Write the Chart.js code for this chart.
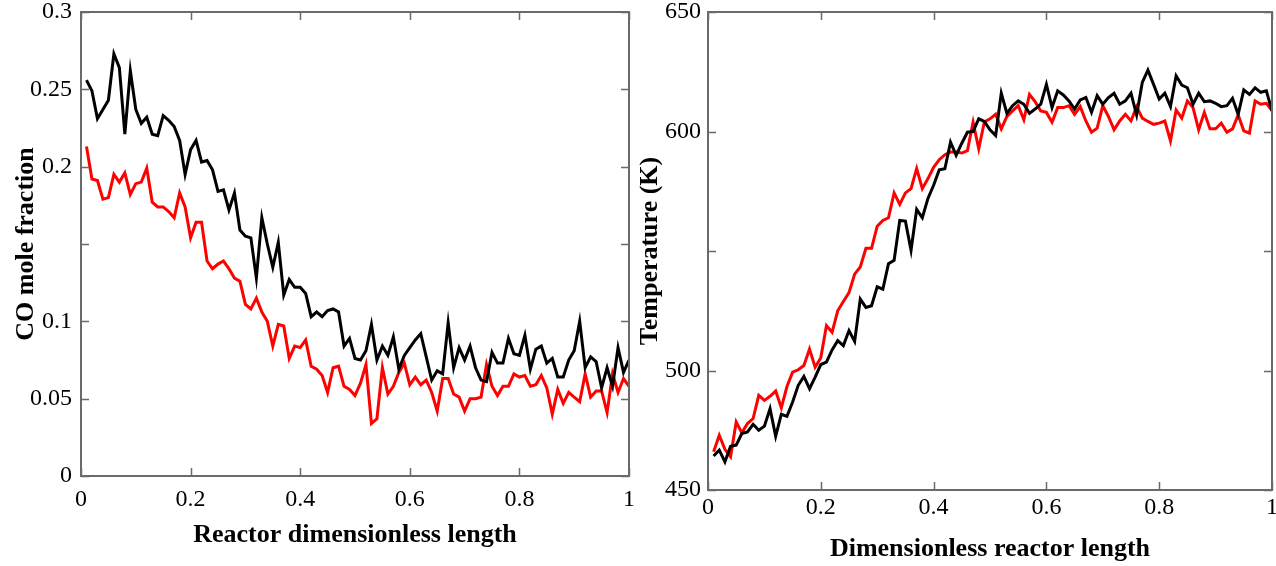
<!DOCTYPE html>
<html>
<head>
<meta charset="utf-8">
<script src="https://cdn.jsdelivr.net/npm/chart.js@4.4.1/dist/chart.umd.min.js"></script>
<style>
  html, body { margin: 0; padding: 0; background: #fff; }
  body { width: 1276px; height: 566px; position: relative; overflow: hidden; }
  canvas { position: absolute; top: 0; }
  #c1 { left: 0; }
  #c2 { left: 620px; }
</style>
</head>
<body>
<canvas id="c1" width="640" height="566"></canvas>
<canvas id="c2" width="656" height="566"></canvas>
<script>
// ---- data ----
const xPos = [0.01,0.02,0.03,0.04,0.05,0.06,0.07,0.08,0.09,0.10,
  0.11,0.12,0.13,0.14,0.15,0.16,0.17,0.18,0.19,0.20,
  0.21,0.22,0.23,0.24,0.25,0.26,0.27,0.28,0.29,0.30,
  0.31,0.32,0.33,0.34,0.35,0.36,0.37,0.38,0.39,0.40,
  0.41,0.42,0.43,0.44,0.45,0.46,0.47,0.48,0.49,0.50,
  0.51,0.52,0.53,0.54,0.55,0.56,0.57,0.58,0.59,0.60,
  0.61,0.62,0.63,0.64,0.65,0.66,0.67,0.68,0.69,0.70,
  0.71,0.72,0.73,0.74,0.75,0.76,0.77,0.78,0.79,0.80,
  0.81,0.82,0.83,0.84,0.85,0.86,0.87,0.88,0.89,0.90,
  0.91,0.92,0.93,0.94,0.95,0.96,0.97,0.98,0.99,1.00];

const coBlack = [0.256,0.249,0.231,0.237,0.243,0.273,0.264,0.221,0.262,0.237,
  0.228,0.232,0.221,0.220,0.233,0.230,0.226,0.217,0.195,0.211,
  0.217,0.203,0.204,0.198,0.184,0.185,0.172,0.183,0.159,0.155,
  0.154,0.128,0.167,0.150,0.135,0.151,0.117,0.127,0.122,0.122,
  0.118,0.103,0.106,0.103,0.107,0.108,0.106,0.084,0.089,0.076,
  0.075,0.081,0.098,0.075,0.084,0.078,0.090,0.069,0.078,0.083,
  0.088,0.092,0.077,0.062,0.068,0.066,0.099,0.070,0.083,0.075,
  0.084,0.070,0.062,0.061,0.080,0.073,0.073,0.089,0.079,0.078,
  0.091,0.069,0.082,0.084,0.073,0.076,0.064,0.064,0.075,0.081,
  0.100,0.070,0.077,0.074,0.057,0.070,0.058,0.083,0.067,0.075];

const coRed = [0.213,0.192,0.191,0.179,0.180,0.195,0.190,0.196,0.182,0.189,
  0.190,0.199,0.177,0.174,0.174,0.171,0.167,0.183,0.174,0.154,
  0.164,0.164,0.139,0.134,0.137,0.139,0.134,0.128,0.126,0.111,
  0.108,0.115,0.106,0.100,0.084,0.098,0.097,0.076,0.084,0.083,
  0.088,0.071,0.069,0.065,0.054,0.070,0.071,0.058,0.056,0.052,
  0.060,0.072,0.034,0.037,0.070,0.053,0.058,0.067,0.073,0.059,
  0.064,0.059,0.062,0.054,0.042,0.063,0.063,0.053,0.051,0.042,
  0.050,0.050,0.051,0.072,0.058,0.052,0.058,0.058,0.066,0.064,
  0.065,0.058,0.059,0.065,0.057,0.040,0.056,0.047,0.054,0.051,
  0.048,0.066,0.051,0.055,0.055,0.041,0.066,0.054,0.063,0.058];

const tBlack = [464.2,466.7,461.8,468.3,468.8,473.6,474.3,477.5,475.0,476.7,
  484.0,472.5,481.7,480.8,486.8,493.8,497.5,492.4,497.2,502.5,
  503.5,508.6,512.5,510.4,516.7,512.2,529.9,526.4,527.1,535.0,
  534.0,544.7,546.1,562.8,562.5,550.3,567.4,563.9,572.0,577.5,
  584.0,584.4,595.5,590.0,595.1,599.7,600.0,605.3,604.2,600.7,
  598.3,616.0,607.6,610.8,612.8,611.4,607.6,609.4,611.4,619.7,
  610.0,617.0,615.3,612.8,609.4,613.2,614.2,608.0,615.0,611.4,
  614.2,616.0,611.4,612.8,616.0,606.9,620.5,625.7,619.7,613.6,
  616.0,610.4,623.3,619.4,618.3,611.4,616.0,612.5,612.8,611.8,
  610.4,610.8,613.9,607.2,617.4,615.5,618.3,616.4,617.0,608.6];

const tRed = [466.0,472.9,467.0,463.9,478.5,473.9,477.8,479.9,489.6,487.5,
  489.2,491.4,484.4,493.3,499.3,500.3,502.1,509.0,501.4,505.3,
  518.8,516.0,525.0,528.9,532.6,540.3,543.3,551.1,551.1,560.4,
  562.8,563.9,574.3,569.5,574.3,576.1,584.5,576.1,580.3,585.0,
  588.2,590.3,591.4,591.4,591.0,592.0,603.9,592.8,604.0,605.3,
  607.2,601.1,606.3,608.6,610.8,604.9,615.5,612.5,608.6,608.0,
  603.9,610.0,610.0,610.8,607.2,610.4,604.4,599.7,601.4,610.8,
  606.3,600.7,604.4,607.2,604.4,610.4,605.6,604.2,603.0,603.5,
  604.4,596.1,609.0,605.6,612.8,610.0,600.7,608.0,601.1,601.1,
  603.5,599.7,601.1,606.9,600.3,599.3,612.8,611.4,611.8,608.8];

const xTicks = [0, 0.2, 0.4, 0.6, 0.8, 1];
const xTickLabels = ['0', '0.2', '0.4', '0.6', '0.8', '1'];
const coTicks = [0, 0.05, 0.1, 0.15, 0.2, 0.25, 0.3];
const coTickLabels = ['0', '0.05', '0.1', '', '0.2', '0.25', '0.3'];
const tTicks = [450, 500, 550, 600, 650];
const tTickLabels = ['450', '500', '', '600', '650'];

const leftYTitle = 'CO mole fraction';
const leftXTitle = 'Reactor dimensionless length';
const rightYTitle = 'Temperature (K)';
const rightXTitle = 'Dimensionless reactor length';

// ---- drawing ----
const SERIF = "'Liberation Serif', 'Times New Roman', serif";
const AXIS_COLOR = '#6a6a6a';

const framePlugin = {
  id: 'frame',
  afterDatasetsDraw(chart) {
    const { ctx, chartArea: a, scales: { x, y } } = chart;
    const L = 8;
    ctx.save();
    ctx.strokeStyle = AXIS_COLOR;
    ctx.lineWidth = 1.5;
    ctx.beginPath();
    x.ticks.forEach(t => {
      const px = Math.round(x.getPixelForValue(t.value)) + 0.5;
      ctx.moveTo(px, a.bottom); ctx.lineTo(px, a.bottom - L);
      ctx.moveTo(px, a.top); ctx.lineTo(px, a.top + L);
    });
    y.ticks.forEach(t => {
      const py = Math.round(y.getPixelForValue(t.value)) + 0.5;
      ctx.moveTo(a.left, py); ctx.lineTo(a.left + L, py);
      ctx.moveTo(a.right, py); ctx.lineTo(a.right - L, py);
    });
    ctx.stroke();
    ctx.lineWidth = 2;
    ctx.strokeRect(a.left, a.top, a.right - a.left, a.bottom - a.top);
    ctx.restore();
  }
};

function makeChart(id, cfg) {
  const toPts = arr => arr.map((v, i) => ({ x: xPos[i], y: v }));
  return new Chart(document.getElementById(id), {
    type: 'line',
    data: {
      datasets: [
        { data: toPts(cfg.black), borderColor: '#000000', borderWidth: 3, pointRadius: 0, tension: 0, fill: false },
        { data: toPts(cfg.red), borderColor: '#ff0000', borderWidth: 3, pointRadius: 0, tension: 0, fill: false }
      ]
    },
    options: {
      responsive: false,
      animation: false,
      devicePixelRatio: 1,
      layout: { padding: { left: 0, top: 12, right: cfg.padRight, bottom: 0 } },
      plugins: { legend: { display: false }, tooltip: { enabled: false } },
      scales: {
        x: {
          type: 'linear', min: 0, max: 1,
          afterBuildTicks: s => { s.ticks = xTicks.map(v => ({ value: v })); },
          afterFit: s => { s.height = cfg.xHeight; s.paddingLeft = 0; s.paddingRight = 0; },
          grid: { display: false, drawTicks: false },
          border: { display: false },
          ticks: {
            autoSkip: false, maxRotation: 0, padding: cfg.xTickPad, color: '#000',
            font: { family: SERIF, size: 24 },
            callback: (v, i) => xTickLabels[i]
          },
          title: {
            display: true, text: cfg.xTitle, color: '#000',
            font: { family: SERIF, size: 26, weight: 'bold', lineHeight: 1.2 },
            padding: { top: 0, bottom: cfg.xTitlePad }
          }
        },
        y: {
          type: 'linear', min: cfg.yMin, max: cfg.yMax,
          afterBuildTicks: s => { s.ticks = cfg.yTicks.map(v => ({ value: v })); },
          afterFit: s => { s.width = cfg.yWidth; s.paddingTop = 0; s.paddingBottom = 0; },
          grid: { display: false, drawTicks: false },
          border: { display: false },
          ticks: {
            autoSkip: false, padding: cfg.yTickPad, color: '#000',
            font: { family: SERIF, size: 24 },
            callback: (v, i) => cfg.yLabels[i]
          },
          title: {
            display: true, text: cfg.yTitle, color: '#000',
            font: { family: SERIF, size: 26, weight: 'bold', lineHeight: 1.2 },
            padding: { top: cfg.yTitlePad, bottom: 0 }
          }
        }
      }
    },
    plugins: [framePlugin]
  });
}

makeChart('c1', {
  black: coBlack, red: coRed,
  yMin: 0, yMax: 0.3, yTicks: coTicks, yLabels: coTickLabels,
  xTitle: leftXTitle, yTitle: leftYTitle,
  padRight: 11, xHeight: 90, yWidth: 81,
  xTickPad: 9, yTickPad: 9, xTitlePad: 15, yTitlePad: 11
});

makeChart('c2', {
  black: tBlack, red: tRed,
  yMin: 450, yMax: 650, yTicks: tTicks, yLabels: tTickLabels,
  xTitle: rightXTitle, yTitle: rightYTitle,
  padRight: 4, xHeight: 76, yWidth: 88,
  xTickPad: 3, yTickPad: 7, xTitlePad: 1, yTitlePad: 15
});
</script>
</body>
</html>
